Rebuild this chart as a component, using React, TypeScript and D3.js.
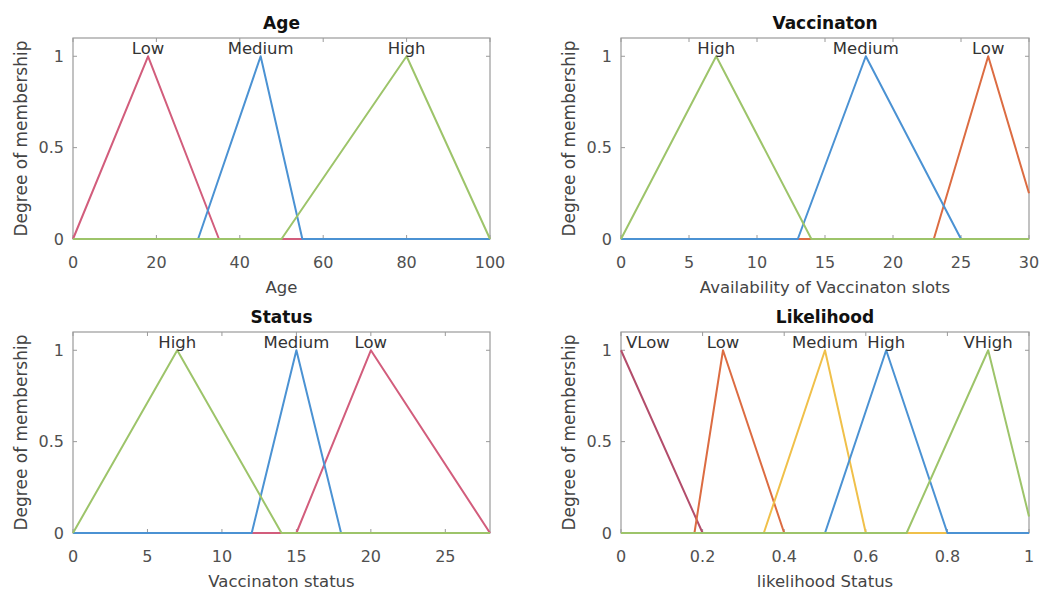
import React, { useEffect, useRef } from "react";
import * as d3 from "d3";

// ---- Input "Age" ----
const ageNames = ["Low", "Medium", "High"];
const ageParams = [
  [0, 18, 35],
  [30, 45, 55],
  [50, 80, 100],
];
const ageRange = [0, 100];
const ageTicks = [0, 20, 40, 60, 80, 100];

// ---- Input "Vaccinaton" ----
const vacNames = ["Low", "Medium", "High"];
const vacParams = [
  [23, 27, 31],
  [13, 18, 25],
  [0, 7, 14],
];
const vacRange = [0, 30];
const vacTicks = [0, 5, 10, 15, 20, 25, 30];

// ---- Input "Status" ----
const statusNames = ["Low", "Medium", "High"];
const statusParams = [
  [15, 20, 28],
  [12, 15, 18],
  [0, 7, 14],
];
const statusRange = [0, 28];
const statusTicks = [0, 5, 10, 15, 20, 25];

// ---- Output "Likelihood" ----
const likeNames = ["VLow", "Low", "Medium", "High", "VHigh"];
const likeParams = [
  [-0.2, 0, 0.2],
  [0.18, 0.25, 0.4],
  [0.35, 0.5, 0.6],
  [0.5, 0.65, 0.8],
  [0.7, 0.9, 1.01],
];
const likeRange = [0, 1];
const likeTicks = [0, 0.2, 0.4, 0.6, 0.8, 1];

const membershipTicks = [0, 0.5, 1];

// line colours, in drawing order for each panel
const PINK = "#d25d7c";
const ORANGE = "#dc6c42";
const BLUE = "#4b92d3";
const GREEN = "#9dc46a";
const YELLOW = "#f0c04a";
const MAROON = "#b34d6b";

const panels = [
  { title: "Age", xlabel: "Age", names: ageNames, params: ageParams, range: ageRange, ticks: ageTicks, colors: [PINK, BLUE, GREEN] },
  { title: "Vaccinaton", xlabel: "Availability of Vaccinaton slots", names: vacNames, params: vacParams, range: vacRange, ticks: vacTicks, colors: [ORANGE, BLUE, GREEN] },
  { title: "Status", xlabel: "Vaccinaton status", names: statusNames, params: statusParams, range: statusRange, ticks: statusTicks, colors: [PINK, BLUE, GREEN] },
  { title: "Likelihood", xlabel: "likelihood Status", names: likeNames, params: likeParams, range: likeRange, ticks: likeTicks, colors: [MAROON, ORANGE, YELLOW, BLUE, GREEN] },
];

// plot boxes (left, right, top, bottom) in a 2x2 grid
const boxes = [
  { left: 73, right: 490, top: 38, bottom: 239 },
  { left: 621, right: 1029, top: 38, bottom: 239 },
  { left: 73, right: 490, top: 332, bottom: 533 },
  { left: 621, right: 1029, top: 332, bottom: 533 },
];

const FONT = "'DejaVu Sans', 'Liberation Sans', sans-serif";
const W = 1054;
const H = 593;

function trimf(v: number, p: number[]) {
  const [a, b, c] = p;
  if (v <= a || v >= c) return v === b ? 1 : 0;
  if (v <= b) return b === a ? 1 : (v - a) / (b - a);
  return c === b ? 1 : (c - v) / (c - b);
}

export default function App() {
  const ref = useRef<SVGSVGElement | null>(null);

  useEffect(() => {
    const svg = d3.select(ref.current);
    svg.selectAll("*").remove();
    svg.append("rect").attr("width", W).attr("height", H).attr("fill", "#fff");

    panels.forEach((panel, pi) => {
      const box = boxes[pi];
      const g = svg.append("g");
      const [lo, hi] = panel.range;
      const x = d3.scaleLinear().domain(panel.range).range([box.left, box.right]);
      const y = d3.scaleLinear().domain([0, 1.1]).range([box.bottom, box.top]);
      const tickLen = 4;

      // axes box
      g.append("rect")
        .attr("x", box.left)
        .attr("y", box.top)
        .attr("width", box.right - box.left)
        .attr("height", box.bottom - box.top)
        .attr("fill", "none")
        .attr("stroke", "#9a9a9a")
        .attr("stroke-width", 1.2);

      // inward ticks on all four sides
      panel.ticks.forEach((t) => {
        const tx = x(t);
        g.append("line").attr("x1", tx).attr("x2", tx).attr("y1", box.bottom).attr("y2", box.bottom - tickLen).attr("stroke", "#9a9a9a");
        g.append("line").attr("x1", tx).attr("x2", tx).attr("y1", box.top).attr("y2", box.top + tickLen).attr("stroke", "#9a9a9a");
        g.append("text")
          .attr("x", tx)
          .attr("y", box.bottom + 29)
          .attr("text-anchor", "middle")
          .attr("font-family", FONT)
          .attr("font-size", 16)
          .attr("fill", "#505050")
          .text(String(t));
      });
      membershipTicks.forEach((t) => {
        const ty = y(t);
        g.append("line").attr("x1", box.left).attr("x2", box.left + tickLen).attr("y1", ty).attr("y2", ty).attr("stroke", "#9a9a9a");
        g.append("line").attr("x1", box.right).attr("x2", box.right - tickLen).attr("y1", ty).attr("y2", ty).attr("stroke", "#9a9a9a");
        g.append("text")
          .attr("x", box.left - 9)
          .attr("y", ty)
          .attr("dy", "0.36em")
          .attr("text-anchor", "end")
          .attr("font-family", FONT)
          .attr("font-size", 16)
          .attr("fill", "#505050")
          .text(String(t));
      });

      // membership function curves, each spanning the whole universe
      const line = d3
        .line<number[]>()
        .x((d) => x(d[0]))
        .y((d) => y(d[1]));
      panel.params.forEach((p, i) => {
        const xs = Array.from(new Set([lo, ...p, hi]))
          .filter((v) => v >= lo && v <= hi)
          .sort((m, n) => m - n);
        const pts = xs.map((v) => [v, trimf(v, p)]);
        g.append("path")
          .attr("d", line(pts))
          .attr("fill", "none")
          .attr("stroke", panel.colors[i])
          .attr("stroke-width", 2)
          .attr("stroke-linejoin", "round");
      });

      // set names above each peak, kept inside the box
      panel.params.forEach((p, i) => {
        const t = g
          .append("text")
          .attr("y", y(1) - 2)
          .attr("text-anchor", "middle")
          .attr("font-family", FONT)
          .attr("font-size", 16.5)
          .attr("fill", "#333")
          .text(panel.names[i]);
        const w = (t.node() as SVGTextElement).getComputedTextLength();
        const pad = 5;
        const cx = Math.min(Math.max(x(p[1]), box.left + pad + w / 2), box.right - pad - w / 2);
        t.attr("x", cx);
      });

      // title and axis labels
      const cxBox = (box.left + box.right) / 2;
      const cyBox = (box.top + box.bottom) / 2;
      g.append("text")
        .attr("x", cxBox)
        .attr("y", box.top - 9)
        .attr("text-anchor", "middle")
        .attr("font-family", FONT)
        .attr("font-size", 17)
        .attr("font-weight", "bold")
        .attr("fill", "#111")
        .text(panel.title);
      g.append("text")
        .attr("x", cxBox)
        .attr("y", box.bottom + 54)
        .attr("text-anchor", "middle")
        .attr("font-family", FONT)
        .attr("font-size", 16.5)
        .attr("fill", "#444")
        .text(panel.xlabel);
      g.append("text")
        .attr("transform", `translate(${box.left - 52},${cyBox}) rotate(-90)`)
        .attr("dy", "0.35em")
        .attr("text-anchor", "middle")
        .attr("font-family", FONT)
        .attr("font-size", 17)
        .attr("fill", "#444")
        .text("Degree of membership");
    });
  }, []);

  return (
    <svg
      ref={ref}
      width={W}
      height={H}
      style={{ position: "absolute", left: 0, top: 0, display: "block" }}
    />
  );
}
